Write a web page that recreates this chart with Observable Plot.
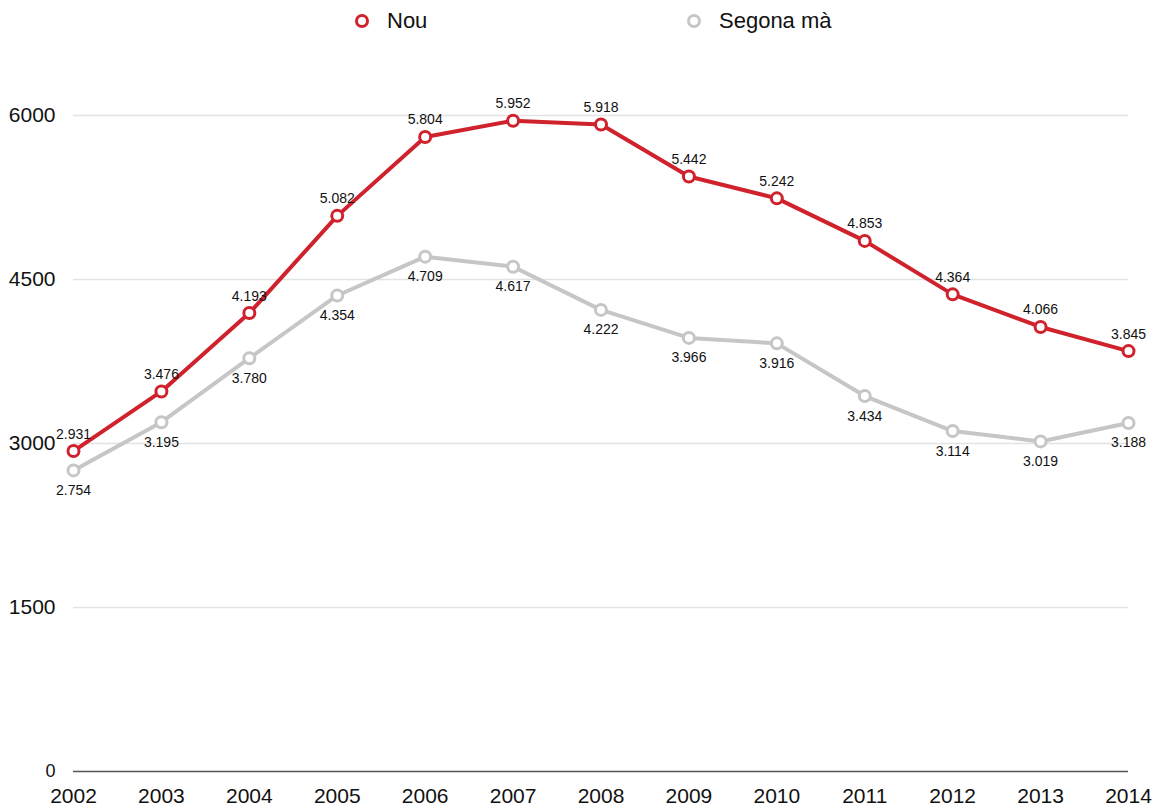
<!DOCTYPE html>
<html><head><meta charset="utf-8">
<script src="https://cdn.jsdelivr.net/npm/d3@7"></script>
<script src="https://cdn.jsdelivr.net/npm/@observablehq/plot@0.6"></script>
<style>
body{margin:0;background:#fff;font-family:Helvetica,Arial,"Liberation Sans",sans-serif;}
#legend{position:relative;height:44px;width:1156px;}
.item{position:absolute;top:8px;font-size:22px;color:#111;display:flex;align-items:center;}
.item svg{margin-right:15px;}
</style></head>
<body>
<div id="legend"></div>
<div id="chart"></div>
<script>
const years = [2002,2003,2004,2005,2006,2007,2008,2009,2010,2011,2012,2013,2014];
const nou = [2931,3476,4193,5082,5804,5952,5918,5442,5242,4853,4364,4066,3845];
const segona = [2754,3195,3780,4354,4709,4617,4222,3966,3916,3434,3114,3019,3188];
const seriesNames = ["Nou","Segona mà"];
const seriesColors = ["#d0222d","#c6c6c6"];
const yTicks = [0,1500,3000,4500,6000];

const fmt = d3.formatLocale({decimal:",",thousands:".",grouping:[3],currency:["","€"]}).format(",");

const data = [];
years.forEach((y,i)=>{
  data.push({year:String(y), value:nou[i], series:seriesNames[0]});
  data.push({year:String(y), value:segona[i], series:seriesNames[1]});
});
const redData = data.filter(d=>d.series===seriesNames[0]);
const grayData = data.filter(d=>d.series===seriesNames[1]);

// legend
const legend = document.getElementById("legend");
[[seriesNames[0],seriesColors[0],352],[seriesNames[1],seriesColors[1],684]].forEach(([n,c,x])=>{
  const el = document.createElement("div");
  el.className="item"; el.style.left=x+"px";
  el.innerHTML=`<svg width="20" height="20"><circle cx="10" cy="10" r="5.5" fill="#fff" stroke="${c}" stroke-width="3"/></svg><span>${n}</span>`;
  legend.appendChild(el);
});

const chart = Plot.plot({
  width:1156, height:762,
  marginTop:71, marginBottom:35, marginLeft:73, marginRight:28,
  style:{fontFamily:'Helvetica, Arial, "Liberation Sans", sans-serif', background:"#fff", overflow:"visible"},
  x:{type:"point", domain:years.map(String), padding:0, round:false},
  y:{domain:[0,6000]},
  color:{domain:seriesNames, range:seriesColors},
  marks:[
    Plot.gridY(yTicks.filter(d=>d>0), {stroke:"#e3e3e3", strokeOpacity:1, strokeWidth:1.5}),
    Plot.ruleY([0], {stroke:"#555", strokeWidth:1.5}),
    Plot.axisY({ticks:yTicks, tickSize:0, tickPadding:18, fontSize:d=>d===0?18:21, tickFormat:d=>String(d), label:null, fill:"#111"}),
    Plot.axisX({tickSize:0, tickPadding:17, fontSize:21, label:null, fill:"#111"}),
    Plot.line(grayData, {x:"year", y:"value", stroke:seriesColors[1], strokeWidth:4}),
    Plot.line(redData, {x:"year", y:"value", stroke:seriesColors[0], strokeWidth:4}),
    Plot.dot(grayData, {x:"year", y:"value", r:5.5, fill:"#fff", stroke:seriesColors[1], strokeWidth:3}),
    Plot.dot(redData, {x:"year", y:"value", r:5.5, fill:"#fff", stroke:seriesColors[0], strokeWidth:3}),
    Plot.text(redData, {x:"year", y:"value", text:d=>fmt(d.value), dy:-17, fontSize:14, fill:"#111"}),
    Plot.text(grayData, {x:"year", y:"value", text:d=>fmt(d.value), dy:20, fontSize:14, fill:"#111"})
  ]
});
document.getElementById("chart").appendChild(chart);
</script>
</body></html>
